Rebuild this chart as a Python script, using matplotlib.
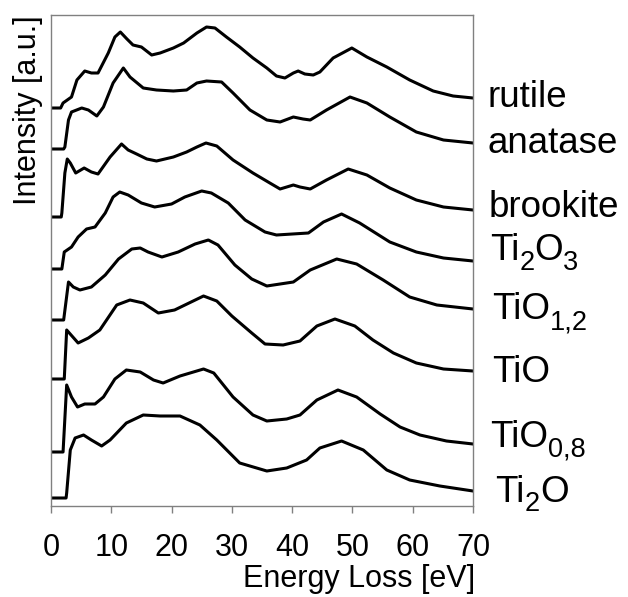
import matplotlib
matplotlib.use('Agg')
import matplotlib.pyplot as plt
from matplotlib.transforms import ScaledTranslation

plt.rcParams['font.family'] = ['Liberation Sans', 'DejaVu Sans']

# energy loss (eV) and intensity above the flat start of each spectrum (a.u.)
rutile_ev = [0, 1.6, 2.0, 3.4, 4.3, 5.6, 6.7, 7.8, 9.5, 10.6, 11.5, 12.6, 13.6, 15.0, 16.7, 18.1, 20.3,
             22.0, 24.2, 25.8, 27.2, 29.1, 31.3, 33.5, 35.8, 37.4, 38.8, 40.2, 41.0, 42.1, 43.5, 44.6,
             46.8, 49.9, 52.4, 55.7, 59.5, 63.4, 66.7, 70]
rutile_int = [0, 0, 5, 11, 28, 37, 35, 35, 55, 71, 76, 69, 63, 61, 53, 55, 60,
              65, 75, 81, 80, 71, 61, 50, 40, 32, 30, 35, 37, 34, 33, 36,
              50, 60, 51, 41, 28, 17, 12, 10]

anatase_ev = [0, 2.1, 2.3, 2.9, 3.4, 5.1, 6.2, 7.6, 8.7, 10.3, 12.0, 13.1, 15.3, 17.5, 20.3, 22.5,
              24.2, 25.8, 28.3, 30.2, 33.0, 35.8, 38.0, 40.2, 41.8, 43.0, 45.7, 49.6, 52.4, 56.2,
              60.6, 65.1, 70]
anatase_int = [0, 0, 2, 29, 37, 41, 39, 33, 42, 66, 81, 72, 61, 59, 58, 59,
               66, 68, 67, 56, 39, 29, 27, 32, 30, 29, 39, 52, 46, 32,
               17, 9, 6]

brookite_ev = [0, 1.7, 1.8, 2.3, 2.7, 3.2, 4.1, 5.5, 6.7, 7.8, 9.8, 11.7, 12.8, 14.2, 15.9, 17.5,
               20.3, 22.5, 24.2, 25.7, 27.5, 30.2, 33.5, 36.3, 38.0, 40.2, 41.3, 43.0, 45.7, 49.3,
               52.4, 56.2, 60.6, 65.1, 70]
brookite_int = [0, 0, 4, 44, 58, 54, 44, 49, 45, 43, 60, 73, 67, 63, 58, 56,
                60, 65, 70, 74, 71, 57, 44, 34, 28, 32, 30, 28, 37, 48,
                42, 29, 17, 10, 7]

ti2o3_ev = [0, 1.8, 2.2, 3.4, 4.5, 5.9, 7.3, 9.0, 10.3, 11.4, 12.8, 15.0, 17.2, 20.0, 22.2, 25.0,
            26.6, 29.4, 32.2, 35.5, 37.4, 42.7, 45.2, 48.2, 51.2, 56.2, 60.6, 65.1, 70]
ti2o3_int = [0, 0, 17, 22, 32, 40, 42, 56, 72, 77, 74, 66, 62, 65, 72, 78,
             76, 66, 49, 37, 34, 36, 47, 55, 46, 27, 17, 11, 8]

tio12_ev = [0, 2.1, 2.9, 3.7, 4.8, 6.7, 9.0, 11.2, 13.4, 14.8, 16.1, 18.4, 21.1, 23.9, 26.1, 27.7,
            30.5, 33.3, 35.8, 40.2, 43.0, 47.4, 50.7, 55.1, 59.5, 64.0, 70]
tio12_int = [0, 0, 38, 33, 30, 33, 45, 61, 71, 72, 68, 63, 68, 76, 80, 75,
             55, 41, 34, 38, 50, 61, 56, 40, 23, 15, 11]

tio_ev = [0, 2.2, 2.6, 4.5, 6.2, 8.1, 10.9, 13.1, 15.3, 17.8, 20.5, 25.3, 27.5, 30.0, 33.3, 35.5,
          38.5, 41.3, 44.1, 47.1, 50.4, 53.4, 56.8, 60.6, 65.1, 70]
tio_int = [0, 0, 49, 36, 41, 49, 74, 79, 76, 66, 69, 83, 78, 63, 46, 35,
           34, 38, 53, 60, 53, 39, 26, 16, 10, 8]

tio08_ev = [0, 2.0, 2.6, 3.4, 4.4, 5.6, 7.3, 8.7, 10.6, 12.5, 14.8, 17.0, 18.6, 21.4, 25.3, 27.0,
            30.2, 33.5, 35.8, 39.1, 41.3, 44.1, 47.6, 50.7, 54.6, 57.9, 61.2, 65.6, 70]
tio08_int = [0, 0, 67, 55, 45, 48, 48, 55, 73, 82, 80, 72, 69, 76, 83, 79,
             55, 37, 31, 33, 37, 52, 62, 55, 38, 25, 17, 11, 8]

ti2o_ev = [0, 2.5, 2.6, 3.2, 4.0, 5.4, 6.7, 8.4, 9.8, 12.5, 15.3, 18.1, 21.4, 24.7, 27.5, 31.3,
           35.8, 39.1, 42.4, 44.6, 48.2, 51.8, 55.7, 59.5, 64.5, 70]
ti2o_int = [0, 0, 5, 48, 60, 63, 58, 52, 58, 75, 83, 82, 82, 73, 58, 35,
            27, 30, 38, 50, 57, 48, 28, 18, 12, 7]

spectra = [(rutile_ev, rutile_int), (anatase_ev, anatase_int), (brookite_ev, brookite_int),
           (ti2o3_ev, ti2o3_int), (tio12_ev, tio12_int), (tio_ev, tio_int),
           (tio08_ev, tio08_int), (ti2o_ev, ti2o_int)]
offsets = [399, 358, 290, 238, 187, 128, 55, 9]

# labels as (text, is_subscript) pieces
names = [[('rutile', 0)], [('anatase', 0)], [('brookite', 0)],
         [('Ti', 0), ('2', 1), ('O', 0), ('3', 1)],
         [('TiO', 0), ('1,2', 1)], [('TiO', 0)],
         [('TiO', 0), ('0,8', 1)], [('Ti', 0), ('2', 1), ('O', 0)]]
name_y = [400.3, 354.3, 290.3, 247, 187.7, 125.3, 60.3, 5.3]
name_x = [72.4, 72.45, 72.6, 72.8, 73.2, 73.2, 72.9, 73.7]

fig = plt.figure(figsize=(6.28, 5.97), dpi=100)
ax = fig.add_axes([51/628, 91/597, 422/628, 491/597])

for (ev, inten), off in zip(spectra, offsets):
    ax.plot(ev, [v + off for v in inten], color='black', linewidth=2.2, solid_joinstyle='round')

renderer = fig.canvas.get_renderer()
for parts, ny, nx in zip(names, name_y, name_x):
    dx = 0.0
    for s, sub in parts:
        shift = ScaledTranslation(dx / 72, -7.0 / 72 if sub else 0, fig.dpi_scale_trans)
        t = ax.text(nx, ny, s, fontsize=19.5 if sub else 26.5, va='baseline', ha='left',
                    clip_on=False, transform=ax.transData + shift)
        dx += t.get_window_extent(renderer).width * 72 / fig.dpi

ax.set_xlim(0, 70)
ax.set_ylim(1, 492)
ax.set_xticks(range(0, 71, 10))
ax.set_yticks([])
ax.tick_params(axis='x', direction='out', length=5, width=1, color='#808080',
               labelsize=22, pad=14.5)
for sp in ax.spines.values():
    sp.set_color('#808080')
    sp.set_linewidth(1.0)

ax.set_xlabel('Energy Loss [eV]', fontsize=22, ha='right')
ax.xaxis.set_label_coords(1.005, -(564 - 506) / 491)
ax.set_ylabel('Intensity [a.u.]', fontsize=22, ha='right')
ax.yaxis.set_label_coords(-(51 - 43.5) / 422, 1.0)

plt.savefig('out.png', dpi=100)
